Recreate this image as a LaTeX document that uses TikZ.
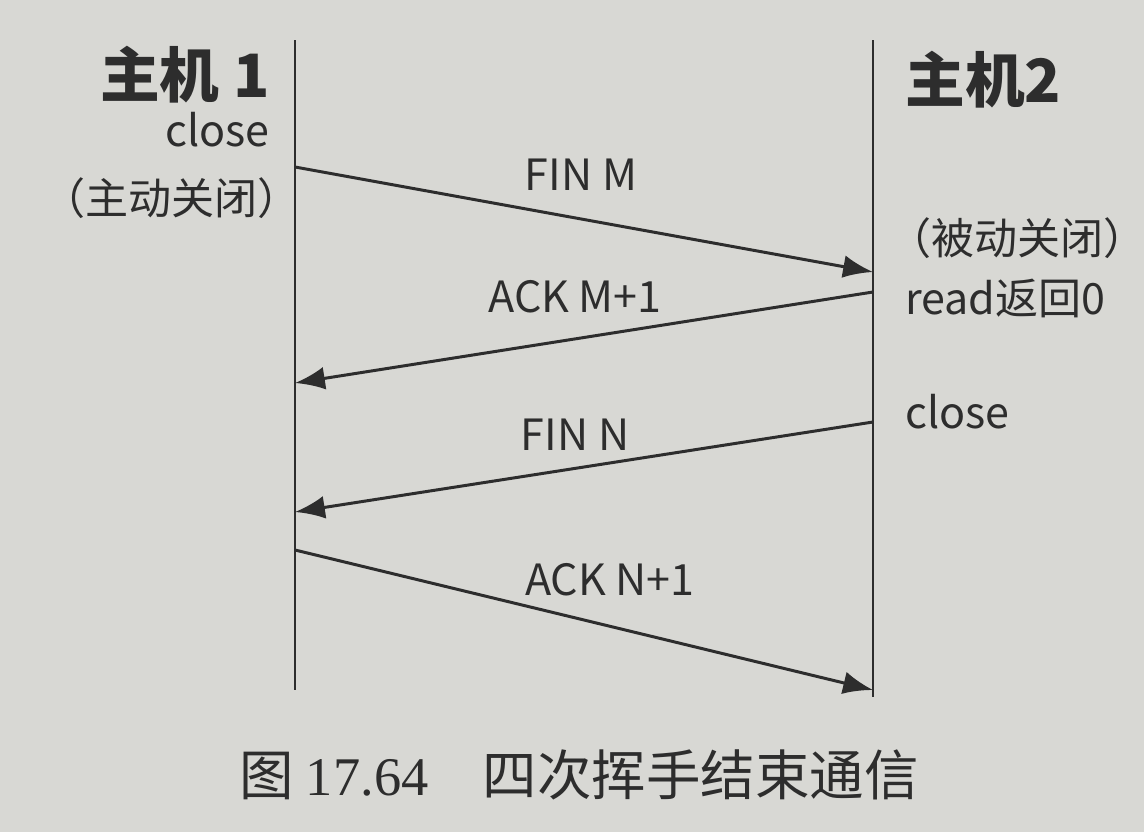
\documentclass[tikz,border=0pt]{standalone}
\usepackage{fontspec}
\newfontfamily\cjk{Noto Sans CJK SC}
\setmainfont{Liberation Serif}
\usetikzlibrary{arrows.meta,calc,positioning}
\definecolor{paperColor}{RGB}{216,216,212}
\definecolor{inkColor}{RGB}{45,45,45}
\tikzset{lifeline/.style={draw=inkColor, line width=1.7pt}}
\tikzset{message/.style={draw=inkColor, line width=1.7pt, -{Latex[length=17pt, width=13pt]}}}
\tikzset{msglabel/.style={text=inkColor, font=\cjk\fontsize{24.5pt}{29pt}\selectfont, inner sep=0pt}}
\tikzset{hostlabel/.style={text=inkColor, font=\cjk\bfseries\fontsize{34pt}{40pt}\selectfont, inner sep=0pt}}

\begin{document}
\begin{tikzpicture}[x=0.02cm, y=-0.02cm]
\useasboundingbox[fill=paperColor] (0,0) rectangle (1144,832);

% Lifelines
\coordinate (HostOneTop) at (295,40);
\coordinate (HostOneBottom) at (295,690);
\coordinate (HostTwoTop) at (873,40);
\coordinate (HostTwoBottom) at (873,697);
\draw [lifeline] (HostOneTop) -- (HostOneBottom);
\draw [lifeline] (HostTwoTop) -- (HostTwoBottom);

% Nodes
\node (HostOne) [hostlabel, anchor=east] at (270,75) {主机 1};
\node (CloseOne) [msglabel, anchor=east] at (270,130) {close};
\node (ActiveClose) [msglabel, anchor=west] at (42,198) {（主动关闭）};

\node (HostTwo) [hostlabel, anchor=west] at (905,80) {主机2};
\node (PassiveClose) [msglabel, anchor=west] at (888,238) {（被动关闭）};
\node (ReadZero) [msglabel, anchor=west] at (905,298) {read返回0};
\node (CloseTwo) [msglabel, anchor=west] at (905,412) {close};

\node (Caption) [text=inkColor, inner sep=0pt] at (579,775) {\cjk\fontsize{31pt}{36pt}\selectfont 图 {\rmfamily 17.64}\quad 四次挥手结束通信};

% Connector ends
\coordinate (FinMStart) at (295,167);
\coordinate (FinMEnd) at (873,272);
\coordinate (AckMStart) at (873,292);
\coordinate (AckMEnd) at (295,383);
\coordinate (FinNStart) at (873,422);
\coordinate (FinNEnd) at (295,512);
\coordinate (AckNStart) at (295,550);
\coordinate (AckNEnd) at (873,690);

% Connectors
\draw [message] (FinMStart) -- (FinMEnd);
\draw [message] (AckMStart) -- (AckMEnd);
\draw [message] (FinNStart) -- (FinNEnd);
\draw [message] (AckNStart) -- (AckNEnd);

\node (FinMLabel) [msglabel] at (581,175) {FIN M};
\node (AckMLabel) [msglabel] at (575,297) {ACK M+1};
\node (FinNLabel) [msglabel] at (575,435) {FIN N};
\node (AckNLabel) [msglabel] at (610,580) {ACK N+1};

\end{tikzpicture}
\end{document}
